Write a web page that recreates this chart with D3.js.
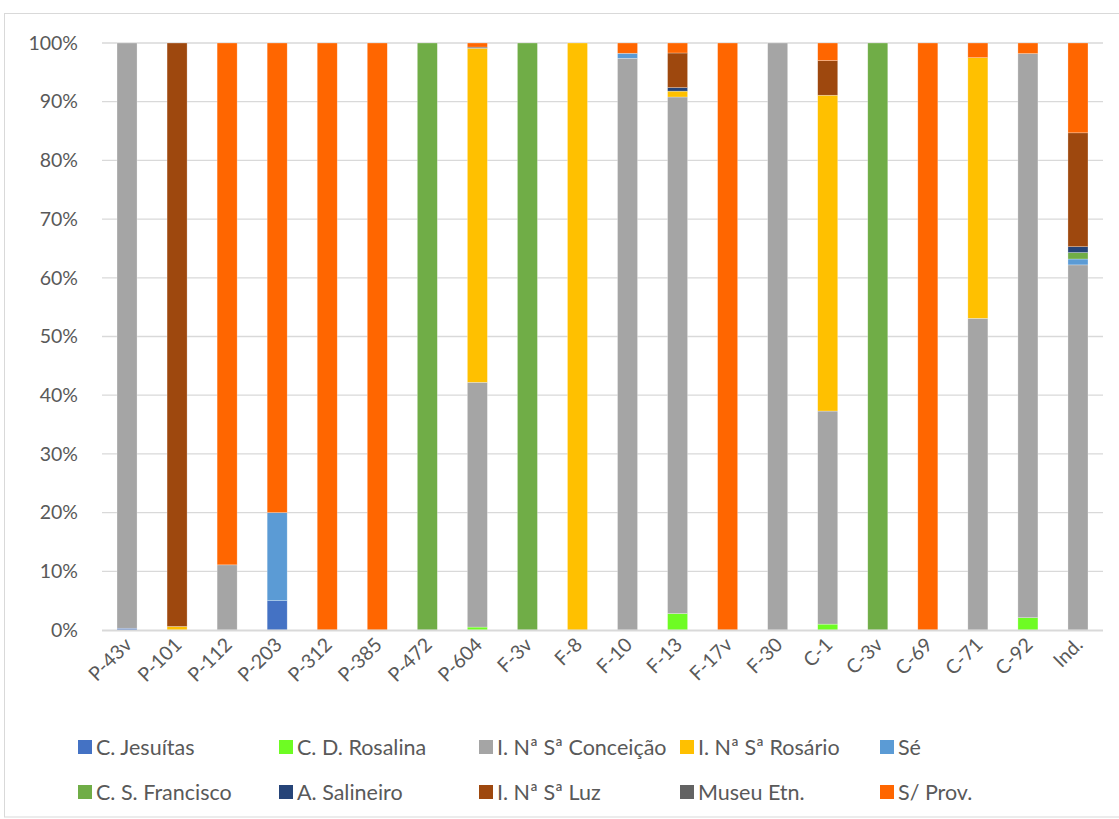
<!DOCTYPE html>
<html><head><meta charset="utf-8">
<script src="https://cdn.jsdelivr.net/npm/d3@7"></script>
<style>body{margin:0;background:#fff}svg{display:block}</style>
</head><body>
<svg id="c" width="1119" height="819"></svg>
<script>
const categories = ["P-43v","P-101","P-112","P-203","P-312","P-385","P-472","P-604","F-3v","F-8","F-10","F-13","F-17v","F-30","C-1","C-3v","C-69","C-71","C-92","Ind."];
const seriesNames = ["C. Jesuítas","C. D. Rosalina","I. Nª Sª Conceição","I. Nª Sª Rosário","Sé","C. S. Francisco","A. Salineiro","I. Nª Sª Luz","Museu Etn.","S/ Prov."];
const colors = ["#4472C4","#6EFC23","#A5A5A5","#FFC000","#5B9BD5","#70AD47","#264478","#9E480E","#636363","#FF6600"];
// values per series, in category order (percent)
const cJesuitas   = [0.3,0,0,5,0,0,0,0,0,0,0,0,0,0,0,0,0,0,0,0];
const cDRosalina  = [0,0,0,0,0,0,0,0.5,0,0,0,2.8,0,0,1.0,0,0,0,2.1,0];
const iConceicao  = [99.7,0,11.1,0,0,0,0,41.7,0,0,97.4,88.0,0,100,36.3,0,0,53.1,96.1,62.2];
const iRosario    = [0,0.6,0,0,0,0,0,56.9,0,100,0,1.0,0,0,53.8,0,0,44.4,0,0];
const se          = [0,0,0,15,0,0,0,0,0,0,0.85,0,0,0,0,0,0,0,0,1.0];
const cSFrancisco = [0,0,0,0,0,0,100,0,100,0,0,0,0,0,0,100,0,0,0,1.1];
const aSalineiro  = [0,0,0,0,0,0,0,0,0,0,0,0.6,0,0,0,0,0,0,0,1.0];
const iLuz        = [0,99.4,0,0,0,0,0,0,0,0,0,5.9,0,0,5.9,0,0,0,0,19.4];
const museuEtn    = [0,0,0,0,0,0,0,0.2,0,0,0,0,0,0,0,0,0,0,0,0];
const sProv       = [0,0,88.9,80,100,100,0,0.7,0,0,1.75,1.7,100,0,3.0,0,100,2.5,1.8,15.3];
const yTicks = [0,10,20,30,40,50,60,70,80,90,100];

const seriesValues = [cJesuitas,cDRosalina,iConceicao,iRosario,se,cSFrancisco,aSalineiro,iLuz,museuEtn,sProv];
const rows = categories.map((c,i)=>{const r={cat:c}; seriesNames.forEach((s,k)=>r[s]=seriesValues[k][i]); return r;});
const stack = d3.stack().keys(seriesNames).offset(d3.stackOffsetExpand)(rows);

const svg = d3.select("#c");
const font = "Lato, 'Open Sans', sans-serif";
const textCol = "#595959";
svg.append("rect").attr("x",4.5).attr("y",13.5).attr("width",1125).attr("height",803.5)
  .attr("fill","#fff").attr("stroke","#D9D9D9");

const pL=102, pR=1103, pT=43, pB=630;
const x = d3.scaleBand().domain(categories).range([pL,pR]).paddingInner(0.6).paddingOuter(0.3);
const y = d3.scaleLinear().domain([0,1]).range([pB,pT]);

// gridlines
svg.append("g").selectAll("line").data(yTicks.slice(1)).join("line")
  .attr("x1",pL).attr("x2",pR).attr("y1",d=>y(d/100)).attr("y2",d=>y(d/100))
  .attr("stroke","#D9D9D9").attr("stroke-width",1.3);

// y axis labels
const yAxis = d3.axisLeft(y).tickValues(yTicks.map(d=>d/100)).tickFormat(d=>Math.round(d*100)+"%").tickSize(0).tickPadding(0);
const yg = svg.append("g").attr("transform",`translate(${78},0)`).call(yAxis);
yg.select(".domain").remove();
yg.selectAll("text").attr("font-family",font).attr("font-size",19.5).attr("fill",textCol);

// bars
svg.append("g").selectAll("g").data(stack).join("g")
  .attr("fill",(d,i)=>colors[i])
  .selectAll("rect").data(d=>d.filter(p=>p[1]-p[0]>0)).join("rect")
  .attr("x",d=>x(d.data.cat)).attr("width",x.bandwidth())
  .attr("y",d=>y(d[1])).attr("height",d=>y(d[0])-y(d[1]))
  .attr("stroke","#fff").attr("stroke-opacity",0.45).attr("stroke-width",0.6);

// x axis line
svg.append("line").attr("x1",pL).attr("x2",pR).attr("y1",pB+0.5).attr("y2",pB+0.5)
  .attr("stroke","#D9D9D9").attr("stroke-width",2);

// x axis labels
const xAxis = d3.axisBottom(x).tickSize(0).tickPadding(0);
const xg = svg.append("g").attr("transform",`translate(0,${pB})`).call(xAxis);
xg.select(".domain").remove();
xg.selectAll("text").attr("font-family",font).attr("font-size",19.5).attr("fill",textCol)
  .attr("text-anchor","end").attr("dy",0)
  .attr("transform","translate(6,16) rotate(-45)");

// legend
const legX = [78,279,479,680,880], legY=[747,792];
const lg = svg.append("g").selectAll("g").data(seriesNames).join("g")
  .attr("transform",(d,i)=>`translate(${legX[i%5]},${legY[Math.floor(i/5)]})`);
lg.append("rect").attr("x",0).attr("y",-7).attr("width",14).attr("height",14).attr("fill",(d,i)=>colors[i]);
lg.append("text").attr("x",18).attr("y",0).attr("dy","0.35em").text(d=>d)
  .attr("font-family",font).attr("font-size",21.5).attr("fill",textCol);
</script>
</body></html>
